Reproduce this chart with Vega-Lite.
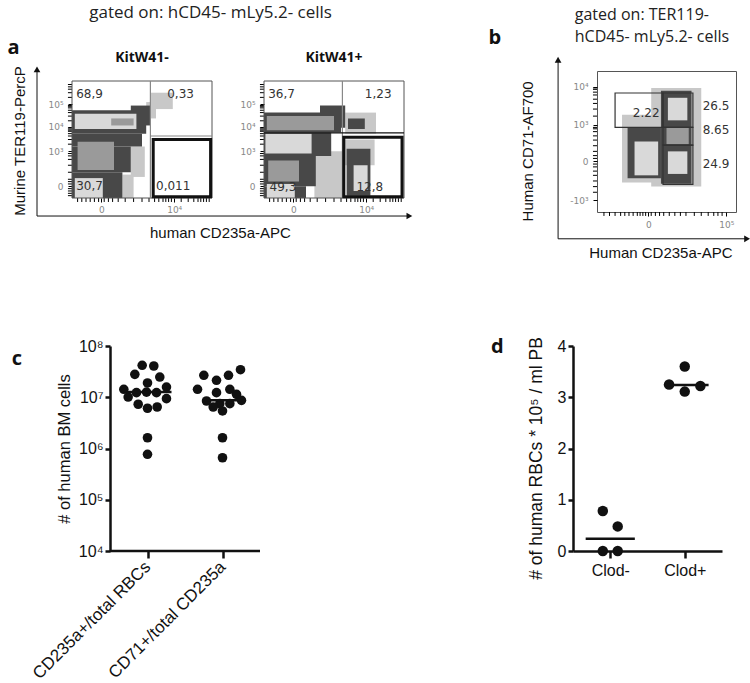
{
  "$schema": "https://vega.github.io/schema/vega-lite/v6.json",
  "padding": {"left": 7, "top": 4, "right": 0, "bottom": 0},
  "background": "white",
  "config": {"view": {"stroke": null}, "axis": {"grid": false}},
  "bounds": "flush",
  "spacing": 275,
  "vconcat": [
    {
      "bounds": "flush",
      "spacing": 52,
      "hconcat": [
        {
          "width": 140, "height": 127,
          "layer": [
            {
              "data": {"values": [
                {"d": "sparse", "x": 53, "x2": 60, "y": 68, "y2": 82},
                {"d": "sparse", "x": 56, "x2": 72, "y": 76, "y2": 90},
                {"d": "sparse", "x": 42, "x2": 52, "y": 18, "y2": 44},
                {"d": "sparse", "x": 36, "x2": 44, "y": 0, "y2": 20},
                {"d": "dense", "x": 0, "x2": 53, "y": 55, "y2": 75},
                {"d": "dense", "x": 42, "x2": 56, "y": 62, "y2": 79},
                {"d": "dense", "x": 0, "x2": 50, "y": 44, "y2": 55},
                {"d": "dense", "x": 0, "x2": 42, "y": 22, "y2": 44},
                {"d": "dense", "x": 0, "x2": 36, "y": 0, "y2": 22},
                {"d": "mid", "x": 4, "x2": 30, "y": 24, "y2": 48},
                {"d": "core", "x": 2, "x2": 46, "y": 59, "y2": 72},
                {"d": "core", "x": 2, "x2": 22, "y": 0, "y2": 17},
                {"d": "mid", "x": 28, "x2": 44, "y": 62, "y2": 68}
              ]},
              "mark": {"type": "rect"},
              "encoding": {
                "x": {"field": "x", "type": "quantitative", "scale": {"domain": [0, 100], "nice": false, "zero": false},
                  "axis": {"title": null, "domain": false, "values": [21, 73], "labelExpr": "datum.value==21?'0':'10⁴'", "tickColor": "#000", "tickSize": 4, "labelColor": "#888", "labelFont": "DejaVu Sans", "labelFontSize": 9, "labelPadding": 3}},
                "x2": {"field": "x2"},
                "y": {"field": "y", "type": "quantitative", "scale": {"domain": [0, 108.55], "nice": false, "zero": false},
                  "axis": {"title": null, "domain": false, "values": [10, 40, 61, 80], "labelExpr": "datum.value==10?'0':datum.value==40?'10³':datum.value==61?'10⁴':'10⁵'", "tickColor": "#000", "tickSize": 4, "labelColor": "#888", "labelFont": "DejaVu Sans", "labelFontSize": 9, "labelPadding": 5}},
                "y2": {"field": "y2"},
                "color": {"field": "d", "type": "nominal", "legend": null, "scale": {"domain": ["sparse", "dense", "mid", "core"], "range": ["#c8c8c8", "#484848", "#9a9a9a", "#d9d9d9"]}}
              }
            },
            {
              "data": {"values": [{"v": 4}, {"v": 7}, {"v": 10}, {"v": 13}, {"v": 16}, {"v": 19}, {"v": 23}, {"v": 26}, {"v": 29}, {"v": 33}, {"v": 38}, {"v": 44}, {"v": 50}, {"v": 55}, {"v": 59}, {"v": 62}, {"v": 65}, {"v": 67}, {"v": 69}, {"v": 71}, {"v": 78}, {"v": 83}, {"v": 87}, {"v": 90}, {"v": 92}, {"v": 94}, {"v": 96}, {"v": 98}]},
              "mark": {"type": "rule", "color": "#000", "strokeWidth": 1},
              "encoding": {"x": {"field": "v", "type": "quantitative"}, "y": {"datum": 0}, "y2": {"datum": -3.4}}
            },
            {
              "data": {"values": [{"v": 2}, {"v": 4}, {"v": 6}, {"v": 8}, {"v": 12}, {"v": 14}, {"v": 16}, {"v": 22}, {"v": 28}, {"v": 33}, {"v": 36}, {"v": 38}, {"v": 46}, {"v": 50}, {"v": 53}, {"v": 55}, {"v": 57}, {"v": 58}, {"v": 59}, {"v": 60}, {"v": 66}, {"v": 70}, {"v": 73}, {"v": 75}, {"v": 77}, {"v": 78}, {"v": 79}, {"v": 86}, {"v": 90}, {"v": 93}, {"v": 95}, {"v": 97}]},
              "mark": {"type": "rule", "color": "#000", "strokeWidth": 1},
              "encoding": {"y": {"field": "v", "type": "quantitative"}, "x": {"datum": 0}, "x2": {"datum": -2.9}}
            },
            {
              "data": {"values": [{"x": 0, "x2": 100, "y": 0, "y2": 100}]},
              "mark": {"type": "rect", "fill": null, "stroke": "#555", "strokeWidth": 1},
              "encoding": {"x": {"field": "x", "type": "quantitative"}, "x2": {"field": "x2"}, "y": {"field": "y", "type": "quantitative"}, "y2": {"field": "y2"}}
            },
            {
              "data": {"values": [{"x": 56, "x2": 56, "y": 0, "y2": 100}, {"x": 56, "x2": 100, "y": 53, "y2": 53}]},
              "mark": {"type": "rule", "color": "#888", "strokeWidth": 1.2},
              "encoding": {"x": {"field": "x", "type": "quantitative"}, "x2": {"field": "x2"}, "y": {"field": "y", "type": "quantitative"}, "y2": {"field": "y2"}}
            },
            {
              "data": {"values": [{"x": 58, "x2": 99, "y": 1, "y2": 50}]},
              "mark": {"type": "rect", "fill": null, "stroke": "#111", "strokeWidth": 3},
              "encoding": {"x": {"field": "x", "type": "quantitative"}, "x2": {"field": "x2"}, "y": {"field": "y", "type": "quantitative"}, "y2": {"field": "y2"}}
            },
            {
              "data": {"values": [{"t": "68,9", "x": 3, "y": 89}, {"t": "0,33", "x": 68, "y": 89}, {"t": "30,7", "x": 3, "y": 10}, {"t": "0,011", "x": 60, "y": 10}]},
              "mark": {"type": "text", "align": "left", "baseline": "middle", "font": "DejaVu Sans", "fontSize": 12, "color": "#333"},
              "encoding": {"x": {"field": "x", "type": "quantitative"}, "y": {"field": "y", "type": "quantitative"}, "text": {"field": "t"}}
            },
            {
              "data": {"values": [{"t": "gated on: hCD45- mLy5.2- cells", "x": 99, "y": 158}]},
              "mark": {"type": "text", "align": "center", "baseline": "middle", "font": "Open Sans", "fontSize": 17, "color": "#222"},
              "encoding": {"x": {"field": "x", "type": "quantitative"}, "y": {"field": "y", "type": "quantitative"}, "text": {"field": "t"}}
            },
            {
              "data": {"values": [{"t": "a", "x": -46, "y": 128}]},
              "mark": {"type": "text", "align": "left", "baseline": "middle", "font": "Open Sans", "fontSize": 20, "fontWeight": "bold", "color": "#111"},
              "encoding": {"x": {"field": "x", "type": "quantitative"}, "y": {"field": "y", "type": "quantitative"}, "text": {"field": "t"}}
            },
            {
              "data": {"values": [{"t": "KitW41-", "x": 50, "y": 120}]},
              "mark": {"type": "text", "align": "center", "baseline": "middle", "font": "Open Sans", "fontSize": 14, "fontWeight": "bold", "color": "#111"},
              "encoding": {"x": {"field": "x", "type": "quantitative"}, "y": {"field": "y", "type": "quantitative"}, "text": {"field": "t"}}
            },
            {
              "data": {"values": [{"t": "Murine TER119-PercP", "x": -37, "y": 48.7}]},
              "mark": {"type": "text", "align": "center", "baseline": "middle", "angle": 270, "font": "Liberation Sans", "fontSize": 15, "color": "#111"},
              "encoding": {"x": {"field": "x", "type": "quantitative"}, "y": {"field": "y", "type": "quantitative"}, "text": {"field": "t"}}
            },
            {
              "data": {"values": [{"t": "human CD235a-APC", "x": 106, "y": -30}]},
              "mark": {"type": "text", "align": "center", "baseline": "middle", "font": "Liberation Sans", "fontSize": 15, "color": "#111"},
              "encoding": {"x": {"field": "x", "type": "quantitative"}, "y": {"field": "y", "type": "quantitative"}, "text": {"field": "t"}}
            },
            {
              "data": {"values": [{"x": -25, "y": -15.4, "x2": -25, "y2": 110}, {"x": -25, "y": -15.4, "x2": 241, "y2": -15.4}]},
              "mark": {"type": "rule", "color": "#111", "strokeWidth": 1},
              "encoding": {"x": {"field": "x", "type": "quantitative"}, "x2": {"field": "x2"}, "y": {"field": "y", "type": "quantitative"}, "y2": {"field": "y2"}}
            },
            {
              "data": {"values": [{"x": -25, "y": 110}]},
              "mark": {"type": "point", "shape": "triangle-up", "filled": true, "size": 45, "color": "#111", "opacity": 1},
              "encoding": {"x": {"field": "x", "type": "quantitative"}, "y": {"field": "y", "type": "quantitative"}}
            },
            {
              "data": {"values": [{"x": 241, "y": -15.4}]},
              "mark": {"type": "point", "shape": "triangle-right", "filled": true, "size": 45, "color": "#111", "opacity": 1},
              "encoding": {"x": {"field": "x", "type": "quantitative"}, "y": {"field": "y", "type": "quantitative"}}
            }
          ]
        },
        {
          "width": 281, "height": 127,
          "layer": [
            {
              "data": {"values": [
                {"d": "sparse", "x": 36, "x2": 58, "y": 0, "y2": 40},
                {"d": "sparse", "x": 58, "x2": 80, "y": 55, "y2": 73},
                {"d": "sparse", "x": 57, "x2": 79, "y": 28, "y2": 50},
                {"d": "dense", "x": 0, "x2": 55, "y": 56, "y2": 73},
                {"d": "dense", "x": 40, "x2": 58, "y": 60, "y2": 79},
                {"d": "dense", "x": 60, "x2": 72, "y": 59, "y2": 68},
                {"d": "dense", "x": 0, "x2": 48, "y": 36, "y2": 56},
                {"d": "dense", "x": 0, "x2": 37, "y": 10, "y2": 36},
                {"d": "dense", "x": 0, "x2": 30, "y": 0, "y2": 10},
                {"d": "dense", "x": 59, "x2": 76, "y": 2, "y2": 42},
                {"d": "mid", "x": 2, "x2": 50, "y": 58, "y2": 70},
                {"d": "core", "x": 1, "x2": 34, "y": 38, "y2": 55},
                {"d": "mid", "x": 3, "x2": 25, "y": 14, "y2": 32},
                {"d": "core", "x": 2, "x2": 22, "y": 0, "y2": 12},
                {"d": "core", "x": 64, "x2": 74, "y": 6, "y2": 28}
              ]},
              "mark": {"type": "rect"},
              "encoding": {
                "x": {"field": "x", "type": "quantitative", "scale": {"domain": [0, 200.71], "nice": false, "zero": false},
                  "axis": {"title": null, "domain": false, "values": [21, 73], "labelExpr": "datum.value==21?'0':'10⁴'", "tickColor": "#000", "tickSize": 4, "labelColor": "#888", "labelFont": "DejaVu Sans", "labelFontSize": 9, "labelPadding": 3}},
                "x2": {"field": "x2"},
                "y": {"field": "y", "type": "quantitative", "scale": {"domain": [0, 108.55], "nice": false, "zero": false},
                  "axis": {"title": null, "domain": false, "values": [10, 40, 61, 80], "labelExpr": "datum.value==10?'0':datum.value==40?'10³':datum.value==61?'10⁴':'10⁵'", "tickColor": "#000", "tickSize": 4, "labelColor": "#888", "labelFont": "DejaVu Sans", "labelFontSize": 9, "labelPadding": 5}},
                "y2": {"field": "y2"},
                "color": {"field": "d", "type": "nominal", "legend": null, "scale": {"domain": ["sparse", "dense", "mid", "core"], "range": ["#c8c8c8", "#484848", "#9a9a9a", "#d9d9d9"]}}
              }
            },
            {
              "data": {"values": [{"v": 4}, {"v": 7}, {"v": 10}, {"v": 13}, {"v": 16}, {"v": 19}, {"v": 23}, {"v": 26}, {"v": 29}, {"v": 33}, {"v": 38}, {"v": 44}, {"v": 50}, {"v": 55}, {"v": 59}, {"v": 62}, {"v": 65}, {"v": 67}, {"v": 69}, {"v": 71}, {"v": 78}, {"v": 83}, {"v": 87}, {"v": 90}, {"v": 92}, {"v": 94}, {"v": 96}, {"v": 98}]},
              "mark": {"type": "rule", "color": "#000", "strokeWidth": 1},
              "encoding": {"x": {"field": "v", "type": "quantitative"}, "y": {"datum": 0}, "y2": {"datum": -3.4}}
            },
            {
              "data": {"values": [{"v": 2}, {"v": 4}, {"v": 6}, {"v": 8}, {"v": 12}, {"v": 14}, {"v": 16}, {"v": 22}, {"v": 28}, {"v": 33}, {"v": 36}, {"v": 38}, {"v": 46}, {"v": 50}, {"v": 53}, {"v": 55}, {"v": 57}, {"v": 58}, {"v": 59}, {"v": 60}, {"v": 66}, {"v": 70}, {"v": 73}, {"v": 75}, {"v": 77}, {"v": 78}, {"v": 79}, {"v": 86}, {"v": 90}, {"v": 93}, {"v": 95}, {"v": 97}]},
              "mark": {"type": "rule", "color": "#000", "strokeWidth": 1},
              "encoding": {"y": {"field": "v", "type": "quantitative"}, "x": {"datum": 0}, "x2": {"datum": -2.9}}
            },
            {
              "data": {"values": [{"x": 0, "x2": 100, "y": 0, "y2": 100}]},
              "mark": {"type": "rect", "fill": null, "stroke": "#555", "strokeWidth": 1},
              "encoding": {"x": {"field": "x", "type": "quantitative"}, "x2": {"field": "x2"}, "y": {"field": "y", "type": "quantitative"}, "y2": {"field": "y2"}}
            },
            {
              "data": {"values": [{"x": 56, "x2": 56, "y": 0, "y2": 100}]},
              "mark": {"type": "rule", "color": "#888", "strokeWidth": 1.2},
              "encoding": {"x": {"field": "x", "type": "quantitative"}, "x2": {"field": "x2"}, "y": {"field": "y", "type": "quantitative"}, "y2": {"field": "y2"}}
            },
            {
              "data": {"values": [{"x": 0, "x2": 100, "y": 55.6, "y2": 55.6}]},
              "mark": {"type": "rule", "color": "#111", "strokeWidth": 1.3},
              "encoding": {"x": {"field": "x", "type": "quantitative"}, "x2": {"field": "x2"}, "y": {"field": "y", "type": "quantitative"}, "y2": {"field": "y2"}}
            },
            {
              "data": {"values": [{"x": 57, "x2": 98.6, "y": 1, "y2": 52}]},
              "mark": {"type": "rect", "fill": null, "stroke": "#111", "strokeWidth": 3},
              "encoding": {"x": {"field": "x", "type": "quantitative"}, "x2": {"field": "x2"}, "y": {"field": "y", "type": "quantitative"}, "y2": {"field": "y2"}}
            },
            {
              "data": {"values": [{"t": "36,7", "x": 3, "y": 89}, {"t": "1,23", "x": 72, "y": 89}, {"t": "49,3", "x": 4, "y": 9}, {"t": "12,8", "x": 66, "y": 9}]},
              "mark": {"type": "text", "align": "left", "baseline": "middle", "font": "DejaVu Sans", "fontSize": 12, "color": "#333"},
              "encoding": {"x": {"field": "x", "type": "quantitative"}, "y": {"field": "y", "type": "quantitative"}, "text": {"field": "t"}}
            },
            {
              "data": {"values": [{"t": "KitW41+", "x": 50, "y": 120}]},
              "mark": {"type": "text", "align": "center", "baseline": "middle", "font": "Open Sans", "fontSize": 14, "fontWeight": "bold", "color": "#111"},
              "encoding": {"x": {"field": "x", "type": "quantitative"}, "y": {"field": "y", "type": "quantitative"}, "text": {"field": "t"}}
            }
          ]
        },
        {
          "width": 139, "height": 141,
          "view": {"stroke": "#555", "strokeWidth": 1},
          "layer": [
            {
              "data": {"values": [
                {"d": "sparse", "x": 18, "x2": 47, "y": 21, "y2": 69},
                {"d": "sparse", "x": 39, "x2": 75, "y": 18, "y2": 88},
                {"d": "dense", "x": 22, "x2": 46, "y": 24, "y2": 60},
                {"d": "dense", "x": 46, "x2": 68, "y": 20, "y2": 86},
                {"d": "mid", "x": 50, "x2": 66, "y": 48, "y2": 60},
                {"d": "core", "x": 27, "x2": 44, "y": 26, "y2": 50},
                {"d": "core", "x": 51, "x2": 65, "y": 65, "y2": 81},
                {"d": "core", "x": 51, "x2": 65, "y": 27, "y2": 43}
              ]},
              "mark": {"type": "rect"},
              "encoding": {
                "x": {"field": "x", "type": "quantitative", "scale": {"domain": [0, 100], "nice": false, "zero": false},
                  "axis": {"title": null, "domain": false, "values": [37, 93], "labelExpr": "datum.value==37?'0':'10⁵'", "tickColor": "#000", "tickSize": 4, "labelColor": "#888", "labelFont": "DejaVu Sans", "labelFontSize": 9, "labelPadding": 4}},
                "x2": {"field": "x2"},
                "y": {"field": "y", "type": "quantitative", "scale": {"domain": [0, 100], "nice": false, "zero": false},
                  "axis": {"title": null, "domain": false, "values": [8.5, 36, 62, 89], "labelExpr": "datum.value==8.5?'-10³':datum.value==36?'0':datum.value==62?'10³':'10⁴'", "tickColor": "#000", "tickSize": 4, "labelColor": "#888", "labelFont": "DejaVu Sans", "labelFontSize": 9, "labelPadding": 5}},
                "y2": {"field": "y2"},
                "color": {"field": "d", "type": "nominal", "legend": null, "scale": {"domain": ["sparse", "dense", "mid", "core"], "range": ["#c8c8c8", "#484848", "#9a9a9a", "#d9d9d9"]}}
              }
            },
            {
              "data": {"values": [{"v": 5}, {"v": 9}, {"v": 13}, {"v": 17}, {"v": 20}, {"v": 23}, {"v": 26}, {"v": 29}, {"v": 31}, {"v": 33}, {"v": 35}, {"v": 39}, {"v": 42}, {"v": 45}, {"v": 48}, {"v": 52}, {"v": 56}, {"v": 60}, {"v": 64}, {"v": 70}, {"v": 75}, {"v": 80}, {"v": 84}, {"v": 87}, {"v": 90}]},
              "mark": {"type": "rule", "color": "#000", "strokeWidth": 1},
              "encoding": {"x": {"field": "v", "type": "quantitative"}, "y": {"datum": 0}, "y2": {"datum": -2.8}}
            },
            {
              "data": {"values": [{"v": 14}, {"v": 18}, {"v": 22}, {"v": 26}, {"v": 29}, {"v": 32}, {"v": 34}, {"v": 38}, {"v": 40}, {"v": 43}, {"v": 47}, {"v": 51}, {"v": 54}, {"v": 57}, {"v": 59}, {"v": 60}, {"v": 68}, {"v": 73}, {"v": 77}, {"v": 80}, {"v": 83}, {"v": 85}, {"v": 87}, {"v": 88}]},
              "mark": {"type": "rule", "color": "#000", "strokeWidth": 1},
              "encoding": {"y": {"field": "v", "type": "quantitative"}, "x": {"datum": 0}, "x2": {"datum": -2.9}}
            },
            {
              "data": {"values": [
                {"x": 13, "x2": 47.5, "y": 60, "y2": 84.4},
                {"x": 47.5, "x2": 69, "y": 60, "y2": 84.4},
                {"x": 47.5, "x2": 69, "y": 47.5, "y2": 60},
                {"x": 47.5, "x2": 69, "y": 19.6, "y2": 47.5}
              ]},
              "mark": {"type": "rect", "fill": null, "stroke": "#333", "strokeWidth": 1.2},
              "encoding": {"x": {"field": "x", "type": "quantitative"}, "x2": {"field": "x2"}, "y": {"field": "y", "type": "quantitative"}, "y2": {"field": "y2"}}
            },
            {
              "data": {"values": [{"t": "2.22", "x": 45, "y": 70}]},
              "mark": {"type": "text", "align": "right", "baseline": "middle", "font": "DejaVu Sans", "fontSize": 12, "color": "#333"},
              "encoding": {"x": {"field": "x", "type": "quantitative"}, "y": {"field": "y", "type": "quantitative"}, "text": {"field": "t"}}
            },
            {
              "data": {"values": [{"t": "26.5", "x": 76, "y": 75}, {"t": "8.65", "x": 76, "y": 58}, {"t": "24.9", "x": 76, "y": 34}]},
              "mark": {"type": "text", "align": "left", "baseline": "middle", "font": "DejaVu Sans", "fontSize": 12, "color": "#333"},
              "encoding": {"x": {"field": "x", "type": "quantitative"}, "y": {"field": "y", "type": "quantitative"}, "text": {"field": "t"}}
            },
            {
              "data": {"values": [{"t": "b", "x": -78, "y": 123.4}]},
              "mark": {"type": "text", "align": "left", "baseline": "middle", "font": "Open Sans", "fontSize": 20, "fontWeight": "bold", "color": "#111"},
              "encoding": {"x": {"field": "x", "type": "quantitative"}, "y": {"field": "y", "type": "quantitative"}, "text": {"field": "t"}}
            },
            {
              "data": {"values": [{"t": "gated on: TER119-", "x": -16, "y": 139.8}, {"t": "hCD45- mLy5.2- cells", "x": -16, "y": 124.4}]},
              "mark": {"type": "text", "align": "left", "baseline": "middle", "font": "Open Sans", "fontSize": 16, "color": "#222"},
              "encoding": {"x": {"field": "x", "type": "quantitative"}, "y": {"field": "y", "type": "quantitative"}, "text": {"field": "t"}}
            },
            {
              "data": {"values": [{"t": "Human CD71-AF700", "x": -49.6, "y": 43}]},
              "mark": {"type": "text", "align": "center", "baseline": "middle", "angle": 270, "font": "Liberation Sans", "fontSize": 15, "color": "#111"},
              "encoding": {"x": {"field": "x", "type": "quantitative"}, "y": {"field": "y", "type": "quantitative"}, "text": {"field": "t"}}
            },
            {
              "data": {"values": [{"t": "Human CD235a-APC", "x": 46, "y": -29}]},
              "mark": {"type": "text", "align": "center", "baseline": "middle", "font": "Liberation Sans", "fontSize": 15, "color": "#111"},
              "encoding": {"x": {"field": "x", "type": "quantitative"}, "y": {"field": "y", "type": "quantitative"}, "text": {"field": "t"}}
            },
            {
              "data": {"values": [{"x": -28, "y": -19, "x2": -28, "y2": 108}, {"x": -28, "y": -19, "x2": 108, "y2": -19}]},
              "mark": {"type": "rule", "color": "#111", "strokeWidth": 1},
              "encoding": {"x": {"field": "x", "type": "quantitative"}, "x2": {"field": "x2"}, "y": {"field": "y", "type": "quantitative"}, "y2": {"field": "y2"}}
            },
            {
              "data": {"values": [{"x": -28, "y": 108}]},
              "mark": {"type": "point", "shape": "triangle-up", "filled": true, "size": 45, "color": "#111", "opacity": 1},
              "encoding": {"x": {"field": "x", "type": "quantitative"}, "y": {"field": "y", "type": "quantitative"}}
            },
            {
              "data": {"values": [{"x": 108, "y": -19}]},
              "mark": {"type": "point", "shape": "triangle-right", "filled": true, "size": 45, "color": "#111", "opacity": 1},
              "encoding": {"x": {"field": "x", "type": "quantitative"}, "y": {"field": "y", "type": "quantitative"}}
            }
          ]
        }
      ]
    },
    {
      "bounds": "flush",
      "spacing": 313,
      "hconcat": [
        {
          "width": 188, "height": 205,
          "layer": [
            {
              "data": {"values": [
                {"sample": "CD235a+/total RBCs", "pos": 0.929, "cells": 42000000},
                {"sample": "CD235a+/total RBCs", "pos": 1.084, "cells": 40700000},
                {"sample": "CD235a+/total RBCs", "pos": 0.831, "cells": 28000000},
                {"sample": "CD235a+/total RBCs", "pos": 1.164, "cells": 24800000},
                {"sample": "CD235a+/total RBCs", "pos": 1.0, "cells": 19000000},
                {"sample": "CD235a+/total RBCs", "pos": 0.684, "cells": 14300000},
                {"sample": "CD235a+/total RBCs", "pos": 1.253, "cells": 15800000},
                {"sample": "CD235a+/total RBCs", "pos": 0.853, "cells": 12300000},
                {"sample": "CD235a+/total RBCs", "pos": 0.987, "cells": 12600000},
                {"sample": "CD235a+/total RBCs", "pos": 1.12, "cells": 12300000},
                {"sample": "CD235a+/total RBCs", "pos": 0.742, "cells": 10100000},
                {"sample": "CD235a+/total RBCs", "pos": 1.253, "cells": 9400000},
                {"sample": "CD235a+/total RBCs", "pos": 0.876, "cells": 7300000},
                {"sample": "CD235a+/total RBCs", "pos": 1.0, "cells": 6100000},
                {"sample": "CD235a+/total RBCs", "pos": 1.129, "cells": 6450000},
                {"sample": "CD235a+/total RBCs", "pos": 1.0, "cells": 1620000},
                {"sample": "CD235a+/total RBCs", "pos": 1.0, "cells": 770000},
                {"sample": "CD71+/total CD235a", "pos": 2.24, "cells": 34500000},
                {"sample": "CD71+/total CD235a", "pos": 1.751, "cells": 26800000},
                {"sample": "CD71+/total CD235a", "pos": 2.08, "cells": 26800000},
                {"sample": "CD71+/total CD235a", "pos": 1.92, "cells": 21400000},
                {"sample": "CD71+/total CD235a", "pos": 1.667, "cells": 14300000},
                {"sample": "CD71+/total CD235a", "pos": 2.098, "cells": 14300000},
                {"sample": "CD71+/total CD235a", "pos": 1.92, "cells": 12300000},
                {"sample": "CD71+/total CD235a", "pos": 2.187, "cells": 11400000},
                {"sample": "CD71+/total CD235a", "pos": 1.787, "cells": 8450000},
                {"sample": "CD71+/total CD235a", "pos": 2.253, "cells": 8700000},
                {"sample": "CD71+/total CD235a", "pos": 1.964, "cells": 7500000},
                {"sample": "CD71+/total CD235a", "pos": 2.098, "cells": 7500000},
                {"sample": "CD71+/total CD235a", "pos": 1.876, "cells": 6450000},
                {"sample": "CD71+/total CD235a", "pos": 2.0, "cells": 5400000},
                {"sample": "CD71+/total CD235a", "pos": 2.0, "cells": 1620000},
                {"sample": "CD71+/total CD235a", "pos": 2.0, "cells": 660000}
              ]},
              "mark": {"type": "circle", "size": 92, "color": "#111", "opacity": 1},
              "encoding": {
                "x": {"field": "pos", "type": "quantitative", "scale": {"domain": [-0.0067, 2.5], "nice": false, "zero": false},
                  "axis": {"title": null, "domain": false, "values": [1, 2], "labelExpr": "datum.value==1?'CD235a+/total RBCs':'CD71+/total CD235a'", "labelAngle": -45, "labelAlign": "right", "labelBaseline": "middle", "labelFont": "Liberation Sans", "labelFontSize": 17, "labelColor": "#111", "labelPadding": 6, "tickColor": "#111", "tickWidth": 2.5, "tickSize": 7}},
                "y": {"field": "cells", "type": "quantitative", "scale": {"type": "log", "domain": [10000, 100000000], "nice": false},
                  "axis": {"offset": -38, "title": "# of human BM cells", "titleFont": "Liberation Sans", "titleFontSize": 16.5, "titleFontWeight": "normal", "titleColor": "#111", "titlePadding": 6, "values": [10000, 100000, 1000000, 10000000, 100000000],
                    "labelExpr": "datum.value==1e4?'10⁴':datum.value==1e5?'10⁵':datum.value==1e6?'10⁶':datum.value==1e7?'10⁷':'10⁸'", "labelFont": "Liberation Sans", "labelFontSize": 16, "labelColor": "#111", "domainColor": "#111", "domainWidth": 2.5, "tickColor": "#111", "tickWidth": 2.5, "tickSize": 5}}
              }
            },
            {
              "data": {"values": [{"from": 0.5, "to": 2.5, "base": 10000}]},
              "mark": {"type": "rule", "color": "#111", "strokeWidth": 2.5},
              "encoding": {"x": {"field": "from", "type": "quantitative"}, "x2": {"field": "to"}, "y": {"field": "base", "type": "quantitative"}}
            },
            {
              "data": {"values": [{"sample": "CD235a+/total RBCs", "from": 0.72, "to": 1.32, "median": 12600000}, {"sample": "CD71+/total CD235a", "from": 1.74, "to": 2.3, "median": 8700000}]},
              "mark": {"type": "rule", "color": "#111", "strokeWidth": 2.5},
              "encoding": {"x": {"field": "from", "type": "quantitative"}, "x2": {"field": "to"}, "y": {"field": "median", "type": "quantitative"}}
            },
            {
              "data": {"values": [{"t": "c", "pos": -0.81, "cells": 56000000}]},
              "mark": {"type": "text", "align": "left", "baseline": "middle", "font": "Open Sans", "fontSize": 20, "fontWeight": "bold", "color": "#111"},
              "encoding": {"x": {"field": "pos", "type": "quantitative"}, "y": {"field": "cells", "type": "quantitative"}, "text": {"field": "t"}}
            }
          ]
        },
        {
          "width": 149, "height": 205,
          "layer": [
            {
              "data": {"values": [
                {"group": "Clod-", "pos": 0.9, "rbc": 0.78},
                {"group": "Clod-", "pos": 1.1, "rbc": 0.48},
                {"group": "Clod-", "pos": 0.9, "rbc": 0.0},
                {"group": "Clod-", "pos": 1.1, "rbc": 0.0},
                {"group": "Clod+", "pos": 2.0, "rbc": 3.6},
                {"group": "Clod+", "pos": 1.79, "rbc": 3.25},
                {"group": "Clod+", "pos": 2.21, "rbc": 3.22},
                {"group": "Clod+", "pos": 2.0, "rbc": 3.11}
              ]},
              "mark": {"type": "circle", "size": 110, "color": "#111", "opacity": 1, "clip": false},
              "encoding": {
                "x": {"field": "pos", "type": "quantitative", "scale": {"domain": [0.5, 2.5], "nice": false, "zero": false},
                  "axis": {"title": null, "values": [1, 2], "labelExpr": "datum.value==1?'Clod-':'Clod+'", "labelAngle": 0, "labelFont": "Liberation Sans", "labelFontSize": 16, "labelColor": "#111", "labelPadding": 4, "labelFlush": false, "domainColor": "#111", "domainWidth": 2.5, "tickColor": "#111", "tickWidth": 2.5, "tickSize": 7}},
                "y": {"field": "rbc", "type": "quantitative", "scale": {"domain": [0, 4], "nice": false},
                  "axis": {"title": "# of human RBCs * 10⁵ / ml PB", "titleFont": "Liberation Sans", "titleFontSize": 17.5, "titleFontWeight": "normal", "titleColor": "#111", "titlePadding": 12, "titleY": 112, "values": [0, 1, 2, 3, 4], "format": "d", "labelFont": "Liberation Sans", "labelFontSize": 16, "labelColor": "#111", "labelFlush": false, "domainColor": "#111", "domainWidth": 2.5, "tickColor": "#111", "tickWidth": 2.5, "tickSize": 5}}
              }
            },
            {
              "data": {"values": [{"group": "Clod-", "from": 0.67, "to": 1.33, "median": 0.24}, {"group": "Clod+", "from": 1.72, "to": 2.32, "median": 3.24}]},
              "mark": {"type": "rule", "color": "#111", "strokeWidth": 2.5},
              "encoding": {"x": {"field": "from", "type": "quantitative"}, "x2": {"field": "to"}, "y": {"field": "median", "type": "quantitative"}}
            },
            {
              "data": {"values": [{"t": "d", "pos": -0.6, "rbc": 3.98}]},
              "mark": {"type": "text", "align": "left", "baseline": "middle", "font": "Open Sans", "fontSize": 20, "fontWeight": "bold", "color": "#111"},
              "encoding": {"x": {"field": "pos", "type": "quantitative"}, "y": {"field": "rbc", "type": "quantitative"}, "text": {"field": "t"}}
            }
          ]
        }
      ]
    }
  ]
}
